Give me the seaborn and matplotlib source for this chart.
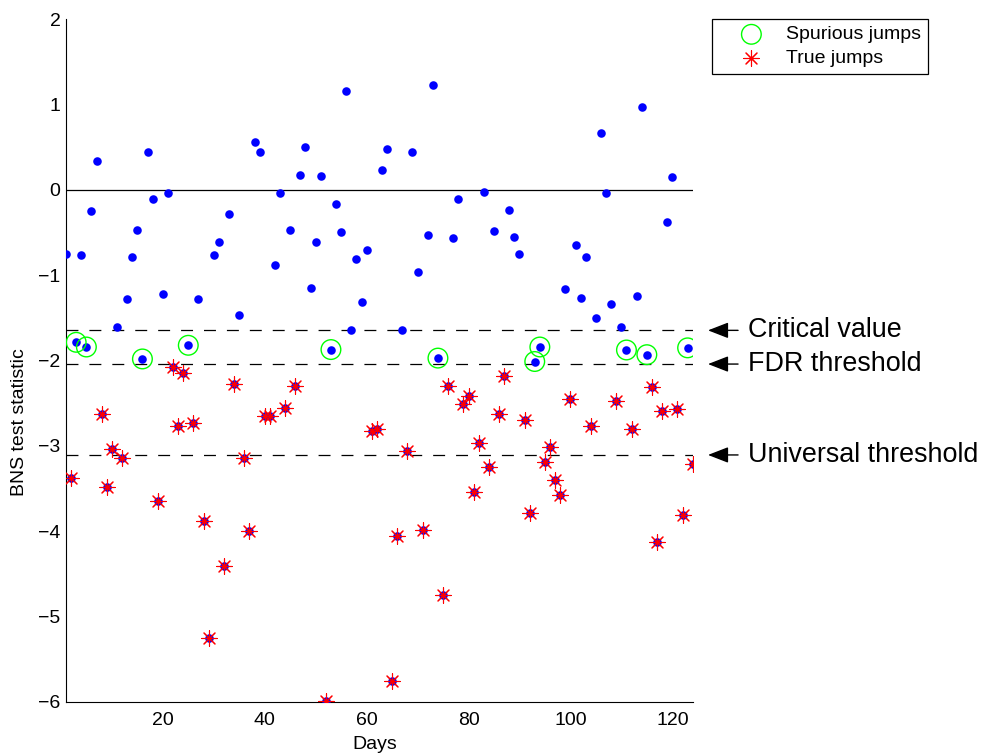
import numpy as np
import pandas as pd
import matplotlib
matplotlib.use("Agg")
import matplotlib.pyplot as plt
import seaborn as sns

# BNS statistic per day
days = list(range(1, 125))
bns_stat = [
    -0.75, -3.38, -1.785, -0.76, -1.84, -0.25, 0.34, -2.62, -3.48, -3.03,
    -1.60, -3.145, -1.28, -0.79, -0.47, -1.98, 0.45, -0.10, -3.645, -1.22,
    -0.04, -2.07, -2.77, -2.15, -1.82, -2.73, -1.28, -3.88, -5.25, -0.76,
    -0.61, -4.41, -0.28, -2.27, -1.46, -3.145, -4.00, 0.56, 0.45, -2.65,
    -2.65, -0.875, -0.04, -2.55, -0.47, -2.30, 0.175, 0.50, -1.15, -0.61,
    0.16, -5.99, -1.87, -0.16, -0.49, 1.16, -1.64, -0.81, -1.31, -0.70,
    -2.82, -2.80, 0.23, 0.48, -5.75, -4.06, -1.64, -3.055, 0.44, -0.965,
    -3.99, -0.53, 1.23, -1.97, -4.75, -2.30, -0.56, -0.11, -2.51, -2.41,
    -3.535, -2.965, -0.02, -3.25, -0.48, -2.625, -2.175, -0.23, -0.555, -0.755,
    -2.70, -3.78, -2.01, -1.84, -3.19, -3.015, -3.40, -3.58, -1.16, -2.45,
    -0.65, -1.27, -0.785, -2.77, -1.50, 0.67, -0.03, -1.34, -2.47, -1.61,
    -1.875, -2.80, -1.245, 0.97, -1.93, -2.31, -4.13, -2.59, -0.37, 0.15,
    -2.565, -3.805, -1.85, -3.215,
]

# thresholds
critical_value = -1.645
fdr_threshold = -2.04
universal_threshold = -3.105

threshold_labels = ["Critical value", "FDR threshold", "Universal threshold"]
threshold_values = [critical_value, fdr_threshold, universal_threshold]

df = pd.DataFrame({"day": days, "stat": bns_stat})
df["spurious"] = (df["stat"] < critical_value) & (df["stat"] >= fdr_threshold)
df["true_jump"] = df["stat"] < fdr_threshold

sns.set_style("white")
plt.rcParams["font.family"] = ["Liberation Sans", "DejaVu Sans"]
plt.rcParams["lines.scale_dashes"] = False
plt.rcParams["text.color"] = "black"
plt.rcParams["axes.labelcolor"] = "black"

fig = plt.figure(figsize=(9.84, 7.56), dpi=100)
ax = fig.add_axes([66 / 984, 1 - 702 / 756, (692.7 - 66) / 984, (702 - 19.3) / 756])

# zero line and thresholds
ax.axhline(0, color="black", lw=0.9)
for v in threshold_values:
    ax.axhline(v, color="black", lw=0.9, linestyle=(0, (8.6, 7.9)))

# all statistics as blue dots
sns.scatterplot(data=df, x="day", y="stat", ax=ax, color="#0000ff",
                s=38, linewidth=0, marker="o", zorder=3)

# true jumps: red asterisks
sns.scatterplot(data=df[df["true_jump"]], x="day", y="stat", ax=ax,
                color="#ff0000", marker=(8, 2, 0), s=125, linewidth=0.8,
                label="True jumps", zorder=4)

# spurious jumps: green open circles
sns.scatterplot(data=df[df["spurious"]], x="day", y="stat", ax=ax,
                facecolors="none", edgecolor="#00ff00", marker="o", s=200,
                linewidth=1.0, label="Spurious jumps", zorder=5)

ax.set_xlim(1, 124)
ax.set_ylim(-6, 2)
ax.set_xticks([20, 40, 60, 80, 100, 120])
ax.set_yticks(np.arange(-6, 3, 1))
ax.tick_params(direction="in", length=3.6, width=0.8, labelsize=14, colors="black")
ax.tick_params(axis="x", pad=7)
ax.tick_params(axis="y", pad=4)
ax.set_xlabel("Days", fontsize=14)
ax.set_ylabel("BNS test statistic", fontsize=14)
ax.xaxis.set_label_coords(0.492, -0.05)
ax.yaxis.set_label_coords(-0.06, 0.41)
sns.despine(ax=ax)
for sp in ["left", "bottom"]:
    ax.spines[sp].set_color("black")
    ax.spines[sp].set_linewidth(0.8)

# legend: spurious first, then true
handles, labels = ax.get_legend_handles_labels()
order = [labels.index("Spurious jumps"), labels.index("True jumps")]
leg = ax.legend([handles[i] for i in order], [labels[i] for i in order],
                loc="upper left", bbox_to_anchor=(712 / 984, 1 - 19 / 756),
                bbox_transform=fig.transFigure, fontsize=14, frameon=True,
                fancybox=False, framealpha=1, edgecolor="black",
                borderpad=0.35, handlelength=3.35, handletextpad=0.1,
                labelspacing=0.3, borderaxespad=0)
leg.get_frame().set_linewidth(0.9)

# arrows and labels for thresholds
tip_x = (708 - 66) / (692.7 - 66)
for lab, v in zip(threshold_labels, threshold_values):
    ax.annotate(lab, xy=(tip_x, v), xycoords=ax.get_yaxis_transform(),
                xytext=(29, 0), textcoords="offset points", color="black",
                ha="left", va="center", fontsize=19.4, annotation_clip=False,
                arrowprops=dict(arrowstyle="-|>,head_length=0.9,head_width=0.35",
                                mutation_scale=14, color="black", lw=1.0,
                                shrinkA=5, shrinkB=0))

fig.savefig("out.png", dpi=100)
